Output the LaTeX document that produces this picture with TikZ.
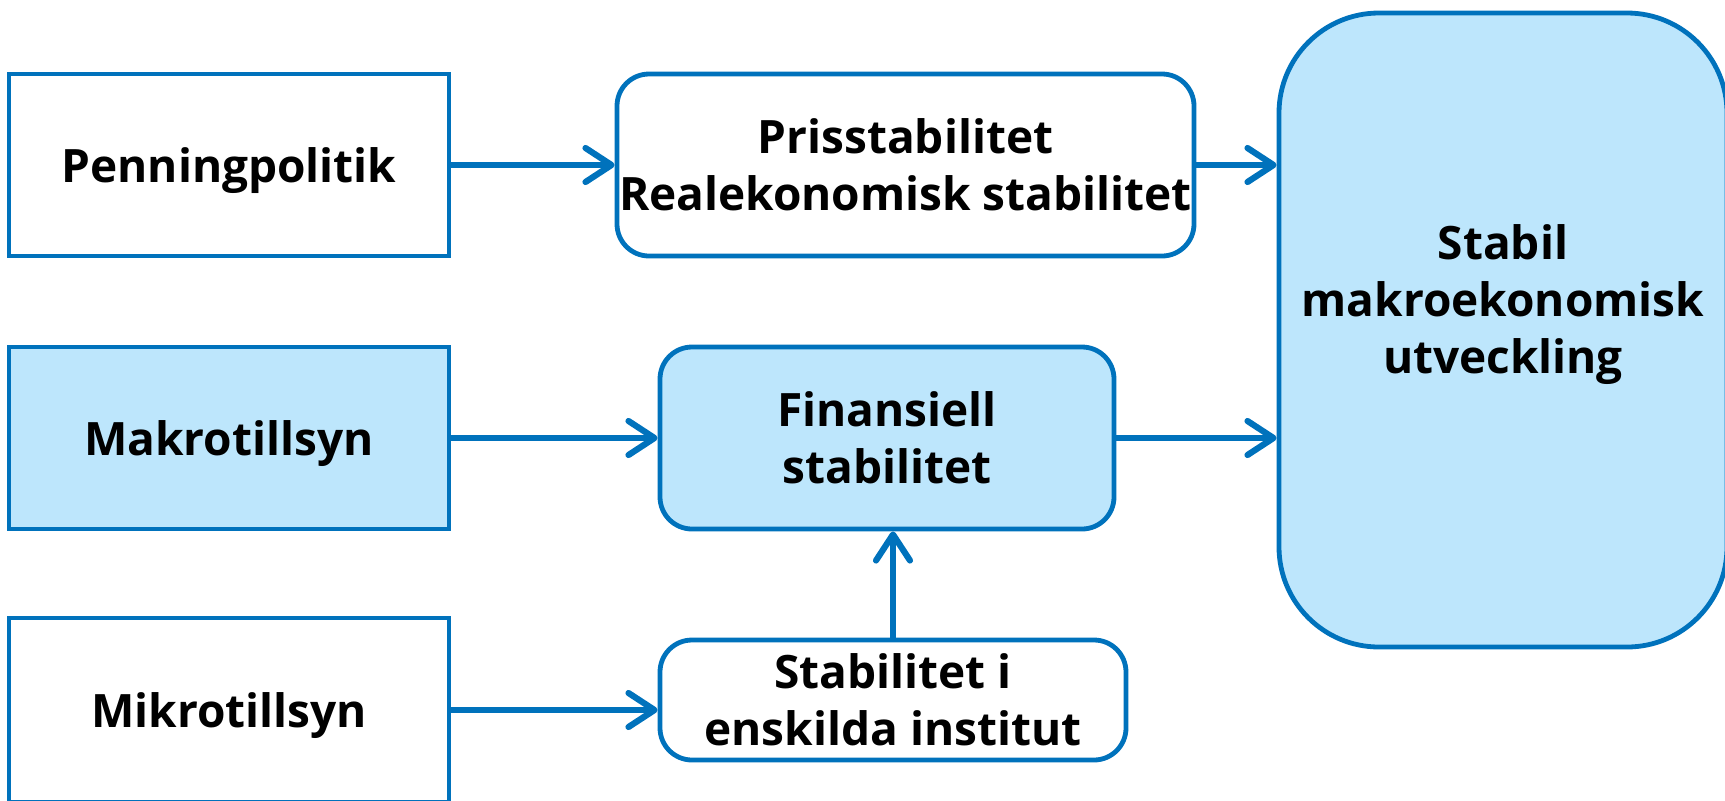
\documentclass[tikz,border=0pt]{standalone}
\usepackage{fontspec}
\setmainfont{Open Sans}
\usetikzlibrary{arrows.meta}
\definecolor{bord}{RGB}{0,114,188}
\definecolor{lfill}{RGB}{189,230,252}
\begin{document}
\begin{tikzpicture}[x=0.5pt,y=-0.5pt,
  txt/.style={align=center, font=\fontsize{23}{28.5}\selectfont\bfseries, inner sep=0pt},
  sq/.style={txt, draw=bord, line width=2.4pt, fill=white},
  one/.style={text depth=0pt},
  rnd/.style={sq, rounded corners=16pt},
  lb/.style={fill=lfill},
  arr/.style={draw=bord, line width=3.1pt, -{Straight Barb[length=13pt,width=17pt,round]}}]
\useasboundingbox (0,0) rectangle (1725,800);
\clip (0,0) rectangle (1725,800);
\node[sq, one, minimum width=220pt, minimum height=91pt] (pen) at (229,165) {Penningpolitik};
\node[sq, one, lb, minimum width=220pt, minimum height=91pt] (makro) at (229,438) {Makrotillsyn};
\node[sq, one, minimum width=220pt, minimum height=92pt] (mikro) at (229,710) {Mikrotillsyn};
\node[rnd, minimum width=288.5pt, minimum height=91pt] (pris) at (905.5,165) {Prisstabilitet\\Realekonomisk stabilitet};
\node[rnd, lb, minimum width=227pt, minimum height=91pt] (fin) at (887,438) {Finansiell\\stabilitet};
\node[rnd, minimum width=233pt, minimum height=60pt] (stab) at (893,700) {Stabilitet i\\enskilda institut};
\node[rnd, lb, rounded corners=50pt, minimum width=224pt, minimum height=317pt] (big) at (1503,330) {};
\node[txt] (bigt) at (1503,305) {Stabil\\makroekonomisk\\utveckling};
\draw[arr] (pen.east) -- (pris.west);
\draw[arr] (pris.east) -- (pris.east -| big.west);
\draw[arr] (makro.east) -- (fin.west);
\draw[arr] (fin.east) -- (fin.east -| big.west);
\draw[arr] (mikro.east) -- (mikro.east -| stab.west);
\draw[arr] (stab.north) -- (stab.north |- fin.south);
\end{tikzpicture}
\end{document}
